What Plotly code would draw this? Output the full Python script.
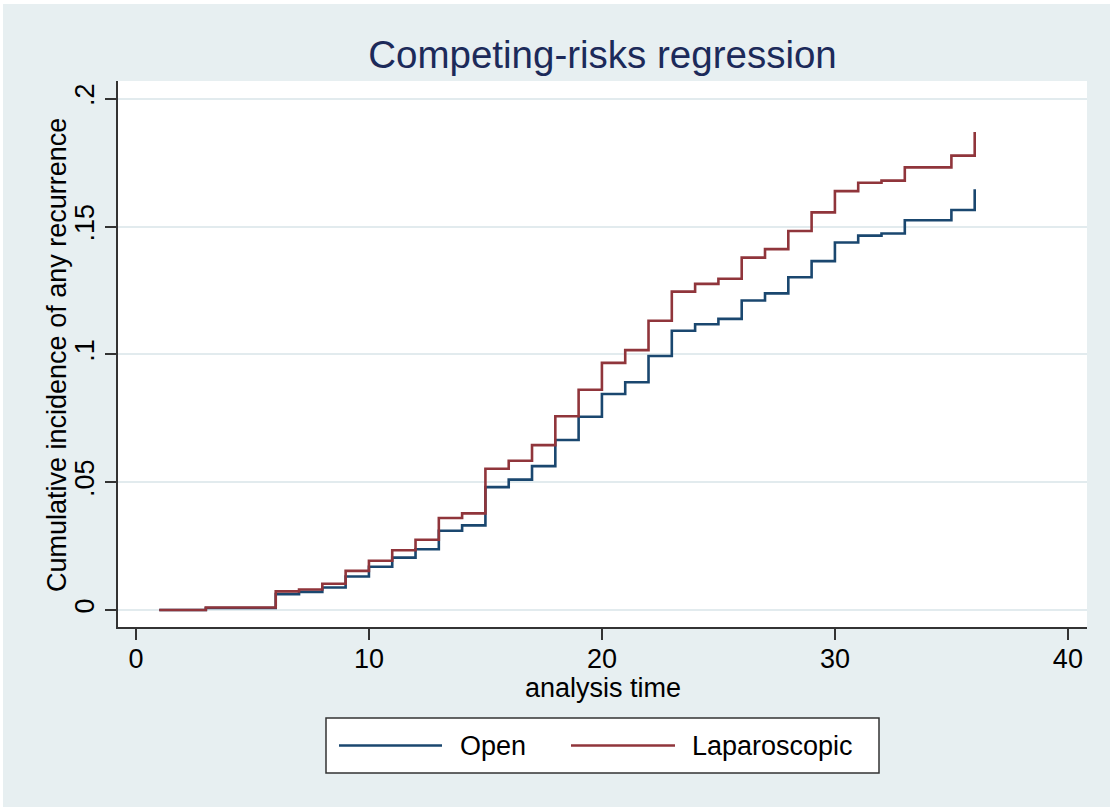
import plotly.graph_objects as go

# ---- data ----
times = [1, 3, 4, 6, 7, 8, 9, 10, 11, 12, 13, 14, 15, 16, 17, 18, 19, 20, 21, 22,
         23, 24, 25, 26, 27, 28, 29, 30, 31, 32, 33, 34, 35, 36]
open_cif = [0.0, 0.0008, 0.0008, 0.0062, 0.0071, 0.0088, 0.0131, 0.0169, 0.0205, 0.0238,
            0.0310, 0.0331, 0.0481, 0.0510, 0.0563, 0.0665, 0.0756, 0.0845, 0.0891, 0.0994,
            0.1093, 0.1118, 0.1139, 0.1211, 0.1239, 0.1302, 0.1365, 0.1438, 0.1465, 0.1473,
            0.1525, 0.1525, 0.1565, 0.1646]
lap_cif = [0.0, 0.0010, 0.0010, 0.0073, 0.0080, 0.0103, 0.0153, 0.0193, 0.0234, 0.0275,
           0.0360, 0.0378, 0.0553, 0.0584, 0.0645, 0.0758, 0.0862, 0.0967, 0.1017, 0.1132,
           0.1246, 0.1276, 0.1296, 0.1379, 0.1412, 0.1483, 0.1556, 0.1639, 0.1672, 0.1680,
           0.1732, 0.1732, 0.1778, 0.1870]
series_names = ["Open", "Laparoscopic"]
x_ticks = [0, 10, 20, 30, 40]
y_ticks = [0, 0.05, 0.10, 0.15, 0.20]
y_tick_labels = ["0", ".05", ".1", ".15", ".2"]

title_text = "Competing-risks regression"
x_title = "analysis time"
y_title = "Cumulative incidence of any recurrence"

# ---- styling ----
NAVY = "#1A476F"
MAROON = "#90353B"
BG = "#E7EFF1"
GRID = "#E2EBEE"
AXIS = "#333333"
FONT = "Liberation Sans, Arial, Helvetica, sans-serif"

W, H = 1110, 807
ML, MR, MT, MB = 118, 23, 81, 180
PW, PH = W - ML - MR, H - MT - MB


def px_x(p):
    return (p - ML) / PW


def px_y(p):
    return (H - MB - p) / PH


fig = go.Figure()
for name, vals, col in [(series_names[0], open_cif, NAVY), (series_names[1], lap_cif, MAROON)]:
    fig.add_trace(go.Scatter(x=times, y=vals, mode="lines", name=name,
                             line=dict(color=col, width=2.6, shape="hv"),
                             showlegend=False))

fig.update_layout(
    width=W, height=H,
    margin=dict(l=ML, r=MR, t=MT, b=MB, autoexpand=False),
    paper_bgcolor=BG,
    plot_bgcolor="white",
    font=dict(family=FONT, size=27, color="black"),
    title=dict(text=title_text, x=(ML + 0.5 * PW) / W, xanchor="center",
               y=1 - 55 / H, yanchor="middle", yref="container",
               font=dict(size=38.5, color="#1C2A5A", family=FONT)),
    xaxis=dict(range=[-0.77, 40.82], tickvals=x_ticks, ticks="outside", ticklen=11,
               tickwidth=1.5, tickcolor=AXIS, showline=True, linecolor=AXIS, linewidth=1.5,
               showgrid=False, zeroline=False, tickfont=dict(size=27), ticklabelstandoff=-4),
    yaxis=dict(range=[-0.00665, 0.2070], tickvals=y_ticks, ticktext=y_tick_labels,
               ticks="outside", ticklen=11, tickwidth=1.5, tickcolor=AXIS, showline=True,
               linecolor=AXIS, linewidth=1.5, showgrid=True, gridcolor=GRID, gridwidth=2,
               zeroline=False, tickangle=-90, tickfont=dict(size=27), ticklabelstandoff=0),
)

shapes = [
    # thin white border at the top and left edges of the graph region
    dict(type="rect", xref="paper", yref="paper", layer="above",
         x0=px_x(-2), x1=px_x(W + 2), y0=px_y(4), y1=px_y(-2),
         fillcolor="white", line=dict(width=0)),
    dict(type="rect", xref="paper", yref="paper", layer="above",
         x0=px_x(-2), x1=px_x(3), y0=px_y(H + 2), y1=px_y(-2),
         fillcolor="white", line=dict(width=0)),
    # legend box
    dict(type="rect", xref="paper", yref="paper",
         x0=px_x(326), x1=px_x(879), y0=px_y(773), y1=px_y(718),
         fillcolor="white", line=dict(color=AXIS, width=1.5)),
    dict(type="line", xref="paper", yref="paper",
         x0=px_x(339), x1=px_x(442), y0=px_y(745.5), y1=px_y(745.5),
         line=dict(color=NAVY, width=2.6)),
    dict(type="line", xref="paper", yref="paper",
         x0=px_x(571), x1=px_x(675), y0=px_y(745.5), y1=px_y(745.5),
         line=dict(color=MAROON, width=2.6)),
]
fig.update_layout(shapes=shapes)

annotations = [
    dict(text=x_title, xref="paper", yref="paper", x=0.5 * (px_x(136) + px_x(1069)),
         y=px_y(688), xanchor="center", yanchor="middle", showarrow=False,
         font=dict(size=27, family=FONT)),
    dict(text=y_title, xref="paper", yref="paper", x=px_x(57), y=px_y(355),
         xanchor="center", yanchor="middle", textangle=-90, showarrow=False,
         font=dict(size=27, family=FONT)),
    dict(text=series_names[0], xref="paper", yref="paper", x=px_x(458), y=px_y(745.5),
         xanchor="left", yanchor="middle", showarrow=False, font=dict(size=27, family=FONT)),
    dict(text=series_names[1], xref="paper", yref="paper", x=px_x(690), y=px_y(745.5),
         xanchor="left", yanchor="middle", showarrow=False, font=dict(size=27, family=FONT)),
]
fig.update_layout(annotations=annotations)

fig.write_html("out.html", config={"displayModeBar": False},
               post_script="document.body.style.margin='0';document.body.style.padding='0';")
